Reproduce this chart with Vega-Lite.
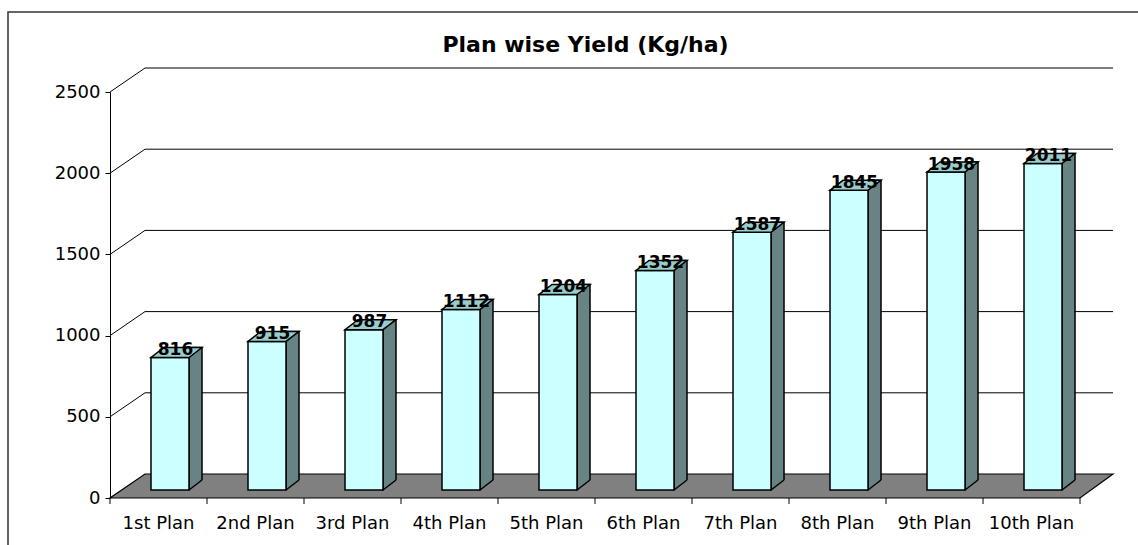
{
  "$schema": "https://vega.github.io/schema/vega-lite/v6.json",
  "width": 1003,
  "height": 406,
  "autosize": {"type": "none"},
  "padding": {"left": 110, "top": 92, "right": 25, "bottom": 47},
  "background": "white",
  "config": {"view": {"stroke": null}, "font": "DejaVu Sans"},
  "title": {"text": "Plan wise Yield (Kg/ha)", "font": "DejaVu Sans", "fontSize": 22, "fontWeight": "bold", "color": "#000000", "frame": "group", "anchor": "middle", "dx": -26, "offset": -63, "baseline": "alphabetic"},
  "datasets": {
    "yield": [
      {"plan": "1st Plan", "yield": 816},
      {"plan": "2nd Plan", "yield": 915},
      {"plan": "3rd Plan", "yield": 987},
      {"plan": "4th Plan", "yield": 1112},
      {"plan": "5th Plan", "yield": 1204},
      {"plan": "6th Plan", "yield": 1352},
      {"plan": "7th Plan", "yield": 1587},
      {"plan": "8th Plan", "yield": 1845},
      {"plan": "9th Plan", "yield": 1958},
      {"plan": "10th Plan", "yield": 2011}
    ],
    "grid": [{"v": 500}, {"v": 1000}, {"v": 1500}, {"v": 2000}, {"v": 2500}]
  },
  "layer": [
    {
      "data": {"values": [{}]},
      "mark": {"type": "rect", "fillOpacity": 0, "stroke": "#333333", "strokeWidth": 1.5},
      "encoding": {
        "x": {"value": -102},
        "x2": {"value": 1100},
        "y": {"value": -80},
        "y2": {"value": 480}
      }
    },
    {
      "data": {"values": [{}]},
      "mark": {"type": "point", "shape": "M0,0 L970,0 L1003,-24 L35,-24 Z", "size": 4, "filled": true, "fill": "#808080", "stroke": "#000000", "strokeWidth": 1.2, "opacity": 1},
      "encoding": {
        "x": {"datum": "1st Plan", "bandPosition": 0, "type": "nominal", "title": null, "scale": {"domain": ["1st Plan", "2nd Plan", "3rd Plan", "4th Plan", "5th Plan", "6th Plan", "7th Plan", "8th Plan", "9th Plan", "10th Plan"], "paddingInner": 0, "paddingOuter": 0.17, "align": 0}},
        "y": {"datum": 0, "type": "quantitative", "title": null, "scale": {"domain": [0, 2500], "nice": false}}
      }
    },
    {
      "data": {"name": "yield"},
      "mark": {"type": "rule", "color": "#000000", "strokeWidth": 1, "y2Offset": 6},
      "encoding": {
        "x": {"field": "plan", "type": "nominal", "sort": null, "bandPosition": 0, "title": null},
        "y": {"datum": 0, "type": "quantitative", "title": null},
        "y2": {"datum": 0}
      }
    },
    {
      "data": {"values": [{}]},
      "mark": {"type": "rule", "color": "#000000", "strokeWidth": 1, "y2Offset": 6},
      "encoding": {
        "x": {"datum": "10th Plan", "bandPosition": 1, "type": "nominal", "title": null},
        "y": {"datum": 0, "type": "quantitative", "title": null},
        "y2": {"datum": 0}
      }
    },
    {
      "data": {"name": "grid"},
      "mark": {"type": "rule", "color": "#000000", "strokeWidth": 1, "x2Offset": 35, "y2Offset": -24},
      "encoding": {
        "x": {"datum": "1st Plan", "bandPosition": 0, "type": "nominal", "title": null},
        "x2": {"datum": "1st Plan", "bandPosition": 0},
        "y": {"field": "v", "type": "quantitative", "title": null},
        "y2": {"field": "v"}
      }
    },
    {
      "data": {"name": "grid"},
      "mark": {"type": "rule", "color": "#000000", "strokeWidth": 1, "xOffset": 35, "x2Offset": 33, "yOffset": -24},
      "encoding": {
        "x": {"datum": "1st Plan", "bandPosition": 0, "type": "nominal", "title": null},
        "x2": {"datum": "10th Plan", "bandPosition": 1},
        "y": {"field": "v", "type": "quantitative", "title": null}
      }
    },
    {
      "data": {"name": "yield"},
      "mark": {"type": "bar", "width": 13, "xOffset": 37, "yOffset": -18, "y2Offset": -8, "fill": "#678383", "stroke": "#000000", "strokeWidth": 1.5},
      "encoding": {
        "x": {"field": "plan", "type": "nominal", "sort": null, "title": null},
        "y": {"field": "yield", "type": "quantitative", "title": null},
        "y2": {"datum": 0}
      }
    },
    {
      "data": {"name": "yield"},
      "mark": {"type": "point", "shape": "M30.5,-8 L43.5,-18 L46.5,-18 L46.5,-4 L30.5,-4 Z", "size": 4, "filled": true, "fill": "#808080", "strokeWidth": 0, "opacity": 1},
      "encoding": {
        "x": {"field": "plan", "type": "nominal", "sort": null, "title": null},
        "y": {"datum": 0, "type": "quantitative", "title": null}
      }
    },
    {
      "data": {"name": "yield"},
      "mark": {"type": "point", "shape": "M30.5,-8 L43.5,-18", "size": 4, "filled": false, "fill": null, "stroke": "#000000", "strokeWidth": 1.5, "opacity": 1},
      "encoding": {
        "x": {"field": "plan", "type": "nominal", "sort": null, "title": null},
        "y": {"datum": 0, "type": "quantitative", "title": null}
      }
    },
    {
      "data": {"name": "yield"},
      "mark": {"type": "bar", "width": 38, "xOffset": 11.5, "yOffset": -8, "y2Offset": -8, "fill": "#CCFFFF", "stroke": "#000000", "strokeWidth": 1.5},
      "encoding": {
        "x": {"field": "plan", "type": "nominal", "sort": null, "title": null,
          "axis": {"bandPosition": 0.5, "domain": false, "ticks": false, "tickSize": 0, "labelFont": "DejaVu Sans", "labelFontSize": 18, "labelColor": "#000000", "labelBaseline": "alphabetic", "labelPadding": 30, "labelAngle": 0, "labelAlign": "center", "grid": false}},
        "y": {"field": "yield", "type": "quantitative", "title": null,
          "axis": {"values": [0, 500, 1000, 1500, 2000, 2500], "format": "d", "grid": false, "domainColor": "#000000", "domainWidth": 1, "tickColor": "#000000", "tickSize": 5, "labelFont": "DejaVu Sans", "labelFontSize": 18, "labelColor": "#000000", "labelPadding": 5}},
        "y2": {"datum": 0}
      }
    },
    {
      "data": {"name": "yield"},
      "mark": {"type": "point", "shape": "M-7.5,-8 L30.5,-8 L43.5,-18 L5.5,-18 Z", "size": 4, "filled": true, "fill": "#99CCCC", "stroke": "#000000", "strokeWidth": 1.5, "opacity": 1},
      "encoding": {
        "x": {"field": "plan", "type": "nominal", "sort": null, "title": null},
        "y": {"field": "yield", "type": "quantitative", "title": null}
      }
    },
    {
      "data": {"name": "yield"},
      "mark": {"type": "text", "dx": 17, "dy": -10.5, "baseline": "alphabetic", "align": "center", "font": "DejaVu Sans", "fontWeight": "bold", "fontSize": 17, "color": "#000000"},
      "encoding": {
        "x": {"field": "plan", "type": "nominal", "sort": null, "title": null},
        "y": {"field": "yield", "type": "quantitative", "title": null},
        "text": {"field": "yield", "type": "quantitative"}
      }
    }
  ]
}
